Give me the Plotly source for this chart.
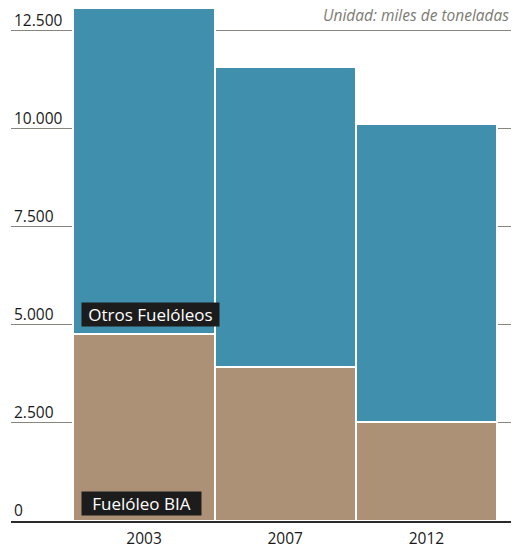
import plotly.graph_objects as go

years = ["2003", "2007", "2012"]
bia = [4760, 3920, 2530]
otros = [8330, 7670, 7600]
tick_vals = [0, 2500, 5000, 7500, 10000, 12500]
tick_text = ["0", "2.500", "5.000", "7.500", "10.000", "12.500"]

BLUE = "#3f8fad"
BROWN = "#ad9176"
FONT = "Open Sans"

fig = go.Figure()
fig.add_trace(go.Bar(x=years, y=bia, name="Fuelóleo BIA",
                     marker=dict(color=BROWN, line=dict(color="white", width=2))))
fig.add_trace(go.Bar(x=years, y=otros, name="Otros Fuelóleos",
                     marker=dict(color=BLUE, line=dict(color="white", width=2))))

fig.update_layout(
    width=513, height=550,
    barmode="stack", bargap=0,
    showlegend=False,
    plot_bgcolor="white", paper_bgcolor="white",
    margin=dict(l=11, r=2, t=0, b=29),
    font=dict(family=FONT, color="#1a1a1a", size=15),
    xaxis=dict(
        type="category", range=[-0.942, 2.599],
        showgrid=False, zeroline=False,
        showline=True, linecolor="#2a2a2a", linewidth=1.5,
        ticks="", tickfont=dict(size=15.5, color="#1a1a1a"),
        ticklabelstandoff=3,
    ),
    yaxis=dict(
        range=[0, 13290],
        tickvals=tick_vals, ticktext=tick_text,
        ticklabelposition="inside top",
        showgrid=True, gridcolor="#86867e", gridwidth=1,
        zeroline=False, showline=False, ticks="",
        tickfont=dict(size=15.5, color="#1a1a1a"),
    ),
    annotations=[
        dict(text="<i>Unidad: miles de toneladas</i>", xref="paper", yref="paper",
             x=1.0, y=1.0, xanchor="right", yanchor="top", yshift=-2,
             showarrow=False, font=dict(size=15.5, color="#7c7b72", family=FONT)),
        dict(text="Otros Fuelóleos", xref="x", yref="y", x=-0.447, y=5260,
             xanchor="left", yanchor="middle", showarrow=False,
             bgcolor="#1c1c1c", borderpad=1, width=135, height=21,
             font=dict(size=17, color="white", family=FONT)),
        dict(text="Fuelóleo BIA", xref="x", yref="y", x=-0.447, y=440,
             xanchor="left", yanchor="middle", showarrow=False,
             bgcolor="#1c1c1c", borderpad=1, width=117, height=21,
             font=dict(size=17, color="white", family=FONT)),
    ],
)

fig.write_html("out.html", config={"displayModeBar": False},
               post_script="document.body.style.margin='0';")
